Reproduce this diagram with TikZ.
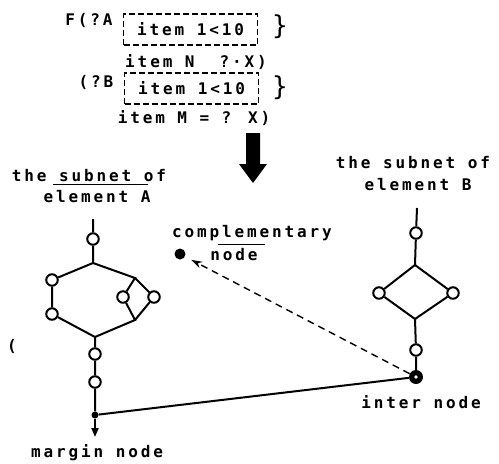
\documentclass[tikz,border=0pt]{standalone}
\usepackage{fontspec}
\newfontfamily\lbl{DejaVu Sans Mono}[LetterSpace=18]
\usetikzlibrary{arrows.meta}
\begin{document}
\begin{tikzpicture}[x=1pt,y=-1pt,
  txt/.style={font=\lbl\bfseries\fontsize{16}{18}\selectfont, inner sep=0pt},
  brace/.style={font=\lbl\fontsize{26}{28}\selectfont, inner sep=0pt},
  dbox/.style={draw, line width=1.5pt, dash pattern=on 6pt off 3pt, minimum width=134pt, minimum height=31pt},
  hole/.style={circle, draw, fill=white, line width=2pt, minimum size=11.5pt, inner sep=0pt},
  dot/.style={circle, fill, inner sep=0pt},
  wire/.style={line width=2pt},
  thinline/.style={line width=0.7pt}
  ]
\useasboundingbox (0,0) rectangle (499,464);

% top block
\node[txt] (fa) at (89,20) {F(?A};
\node[txt, dbox] (box1) at (190.5,29.5) {item 1<10};
\node[brace] (br1) at (280,27) {\}};
\node[txt] (n1) at (196,62) {item N\ \ ?·X)};
\node[txt] (fb) at (96,82) {(?B};
\node[txt, dbox] (box2) at (191.5,88.5) {item 1<10};
\node[brace] (br2) at (280,88) {\}};
\node[txt] (m1) at (194,118) {item M = ? X)};

% big arrow
\fill (246,133) -- (260,133) -- (260,164) -- (267,164) -- (253,183) -- (239,164) -- (246,164) -- cycle;

% labels
\node[txt] (tsA) at (89,176) {the subnet of};
\node[txt] (teA) at (97,197) {element A};
\node[txt] (tsB) at (413,163) {the subnet of};
\node[txt] (teB) at (418,185) {element B};
\node[txt] (tc) at (252,233) {complementary};
\node[txt] (tn) at (234,255) {node};
\node[txt] (ti) at (421,402) {inter node};
\node[txt] (tm) at (97,453) {margin node};
\node[txt] (paren) at (12,346) {(};
\draw[thinline] (53,184) -- (148,184);
\draw[thinline] (218,244) -- (265,244);

% subnet A
\coordinate (aTop) at (93,219);
\node[hole] (a1) at (93,239) {};
\coordinate (aJ1) at (93,263);
\node[hole] (a2) at (52,280) {};
\node[hole] (a3) at (52,314) {};
\coordinate (aK1) at (135,278);
\node[hole] (a4) at (123,297) {};
\node[hole] (a5) at (154,297) {};
\coordinate (aK2) at (135,320);
\coordinate (aJ2) at (95,337);
\node[hole] (a6) at (95,354) {};
\node[hole] (a7) at (95,382) {};
\node[dot, minimum size=7pt] (margin) at (95,415) {};
\coordinate (aEnd) at (95,437);
\draw[wire] (aTop) -- (a1) -- (aJ1) -- (a2) -- (a3) -- (aJ2) -- (a6) -- (a7) -- (margin);
\draw[wire] (aJ1) -- (aK1) -- (a4) -- (aK2) -- (aJ2);
\draw[wire] (aK1) -- (a5) -- (aK2);
\draw[wire, -{Triangle[length=9pt,width=7pt]}] (margin) -- (aEnd);

% subnet B
\coordinate (bTop) at (417,208);
\node[hole] (b1) at (416,233) {};
\coordinate (bJ1) at (415,265);
\node[hole] (b2) at (379,293) {};
\node[hole] (b3) at (453,293) {};
\coordinate (bJ2) at (415,319);
\node[hole] (b4) at (416,350) {};
\node[dot, minimum size=14pt] (inter) at (416,377) {};
\fill[white] (inter.center) circle (1.8pt);
\draw[wire] (bTop) -- (b1) -- (bJ1) -- (b2) -- (bJ2) -- (b4) -- (inter);
\draw[wire] (bJ1) -- (b3) -- (bJ2);

% connections
\draw[wire] (margin) -- (inter);
\node[dot, minimum size=11pt] (comp) at (180,254) {};
\draw[line width=1.4pt, dash pattern=on 7pt off 5pt, -{Stealth[length=11pt,width=7pt]}, shorten >=7pt] (inter) -- (comp);
\end{tikzpicture}
\end{document}
